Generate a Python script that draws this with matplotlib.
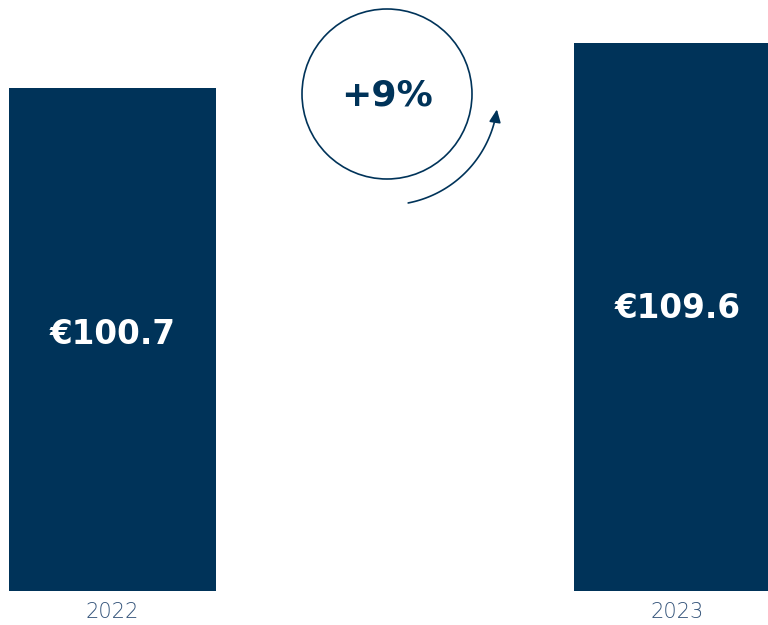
import matplotlib
matplotlib.use("Agg")
import matplotlib.pyplot as plt
import numpy as np
from matplotlib.patches import Circle, FancyArrowPatch
from matplotlib.path import Path

years = ["2022", "2023"]
values = [100.7, 109.6]
value_labels = ["€100.7", "€109.6"]
growth_label = "+9%"

NAVY = "#003359"
TICK = "#34547a"

W, H = 768, 625
fig = plt.figure(figsize=(W / 100, H / 100), dpi=100)

# main bar axes: baseline at pixel y=591
ax = fig.add_axes([0, 1 - 591 / H, 1, 591 / H])
x = np.arange(len(years))
ax.bar(x, values, width=207 / 565, color=NAVY)
ax.set_xlim(-112.5 / 565, (768 - 112.5) / 565)
ax.set_ylim(0, 591 / 5.0)
for s in ax.spines.values():
    s.set_visible(False)
ax.set_yticks([])
ax.set_xticks(x, years)
ax.tick_params(axis="x", length=0, pad=8, labelsize=15, labelcolor=TICK)
for lbl in ax.get_xticklabels():
    lbl.set_fontfamily("DejaVu Sans")
    lbl.set_fontweight("light")

label_y = [51.2, 56.6]
for xi, ly, t in zip(x, label_y, value_labels):
    ax.text(xi, ly, t, ha="center", va="center", color="white",
            fontsize=23.5, fontweight="bold", family="DejaVu Sans")

# overlay in pixel coordinates for the circle and arrow
ov = fig.add_axes([0, 0, 1, 1])
ov.set_xlim(0, W)
ov.set_ylim(H, 0)
ov.axis("off")
ov.patch.set_alpha(0)

cx, cy, r = 387, 94, 85
ov.add_patch(Circle((cx, cy), r, fill=False, lw=1.2, edgecolor=NAVY))
ov.text(cx, cy + 1, growth_label, ha="center", va="center", color=NAVY,
        fontsize=26, fontweight="bold", family="DejaVu Sans")

R = 111
ang = np.deg2rad(np.linspace(-79, -8, 60))
verts = np.column_stack([cx + R * np.cos(ang), cy - R * np.sin(ang)])
path = Path(verts)
arr = FancyArrowPatch(path=path, arrowstyle="-|>,head_length=0.55,head_width=0.25",
                      mutation_scale=14, lw=1.2, color=NAVY)
ov.add_patch(arr)

fig.savefig("out.png", dpi=100)
